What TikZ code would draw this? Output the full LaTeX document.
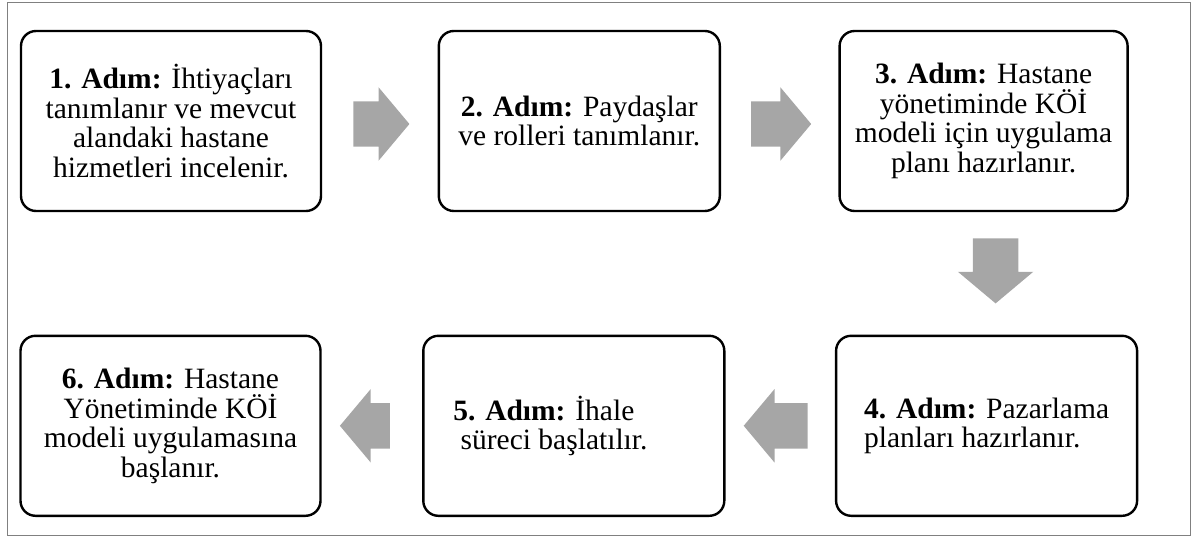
\documentclass[tikz,border=0pt]{standalone}
\usepackage{fontspec}
\setmainfont{Liberation Serif}
\usetikzlibrary{positioning,calc,shapes.arrows}
\definecolor{Frame}{HTML}{808080}
\definecolor{ArrowGray}{HTML}{A6A6A6}

\begin{document}
\begin{tikzpicture}[
      x=1pt,y=1pt,
      stepbox/.style={draw=black,line width=2.4pt,rounded corners=15pt,
        minimum height=180pt,inner sep=0pt,
        font=\fontsize{29.5}{29.5}\selectfont},
      flow/.style={single arrow,fill=ArrowGray,draw=none,anchor=tail,
        inner xsep=0pt,inner ysep=22.5pt,
        single arrow head extend=14pt,single arrow tip angle=100}
    ]
  \useasboundingbox (0,0) rectangle (1195,-540);
  \draw[Frame,line width=1pt] (7,-3) rectangle (1190,-535);
  % top row, left to right
  \node[stepbox,minimum width=300pt,align=flush center] (s1) at (171,-121)
    {\textbf{1. Adım:} İhtiyaçları\\tanımlanır ve mevcut\\alandaki hastane\\hizmetleri incelenir.};
  \node[stepbox,minimum width=281pt,align=flush center,right=115.4pt of s1] (s2)
    {\textbf{2. Adım:} Paydaşlar\\ve rolleri tanımlanır.};
  \node[stepbox,minimum width=288pt,align=flush center,right=117.4pt of s2] (s3)
    {\textbf{3. Adım:} Hastane\\yönetiminde KÖİ\\modeli için uygulama\\planı hazırlanır.};
  % bottom row, right to left
  \node[stepbox,minimum width=301pt,align=flush left,below=122.4pt of s3,xshift=3pt] (s4)
    {\textbf{4. Adım:} Pazarlama\\planları hazırlanır.};
  \node[stepbox,text width=241pt,inner xsep=30pt,align=flush left,left=109.4pt of s4] (s5)
    {\textbf{5. Adım:} İhale\\\hspace*{0.25em}süreci başlatılır.};
  \node[stepbox,minimum width=300pt,align=flush center,left=100.4pt of s5] (s6)
    {\textbf{6. Adım:} Hastane\\Yönetiminde KÖİ\\modeli uygulamasına\\başlanır.};
  % block arrows, placed by their tails
  \node[flow,minimum height=56pt] (a12) at ([xshift=31pt,yshift=-3pt]s1.east) {};
  \node[flow,minimum height=60pt] (a23) at ([xshift=30pt,yshift=-3pt]s2.east) {};
  \node[flow,minimum height=65pt,inner xsep=22.5pt,inner ysep=0pt,
    single arrow head extend=15pt,shape border rotate=270]
    (a34) at ([xshift=12pt,yshift=-26pt]s3.south) {};
  \node[flow,minimum height=64pt,shape border rotate=180]
    (a45) at ([xshift=-27pt]s4.west) {};
  \node[flow,minimum height=50pt,shape border rotate=180]
    (a56) at ([xshift=-32pt]s5.west) {};
\end{tikzpicture}
\end{document}
